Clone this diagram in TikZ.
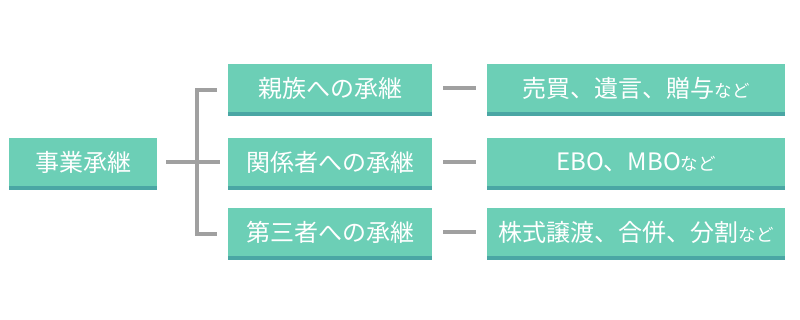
\documentclass[tikz,border=0pt]{standalone}
\usepackage{fontspec}
\setmainfont{Noto Sans CJK JP}
\definecolor{face}{RGB}{108,207,182}
\definecolor{strip}{RGB}{74,166,164}
\definecolor{conn}{RGB}{160,160,160}
\newcommand{\nd}[1]{{\fontsize{17.5pt}{17.5pt}\selectfont #1}}
\begin{document}
\begin{tikzpicture}[x=1pt,y=-1pt,
  box/.style={fill=face,draw=none,minimum height=48pt,inner sep=0pt,text=white,
    font=\fontsize{24pt}{24pt}\selectfont},
  connline/.style={draw=conn,line width=3.6pt}]
\useasboundingbox (0,0) rectangle (800,320);
\node[box,minimum width=148pt] (root) at (83,162) {事業承継};
\node[box,minimum width=204pt] (m1) at (330,88) {親族への承継};
\node[box,minimum width=204pt] (m2) at (330,162) {関係者への承継};
\node[box,minimum width=204pt] (m3) at (330,232) {第三者への承継};
\node[box,minimum width=298pt] (r1) at (636,88) {売買、遺言、贈与\nd{など}};
\node[box,minimum width=298pt] (r2) at (636,162) {EBO、MBO\nd{など}};
\node[box,minimum width=298pt] (r3) at (636,232) {株式譲渡、合併、分割\nd{など}};
\foreach \n in {root,m1,m2,m3,r1,r2,r3}
  \fill[strip] (\n.south west) rectangle ([yshift=-4pt]\n.south east);
\coordinate (bt) at (197,90);
\coordinate (bb) at (197,234);
\draw[connline] ([xshift=20pt]bt) -- (bt) -- (bb) -- ([xshift=20pt]bb);
\draw[connline] ([xshift=9pt]root.east) -- ([xshift=-8pt]m2.west);
\foreach \i in {1,2,3}
  \draw[connline] ([xshift=11pt]m\i.east) -- ([xshift=-11pt]r\i.west);
\end{tikzpicture}
\end{document}
